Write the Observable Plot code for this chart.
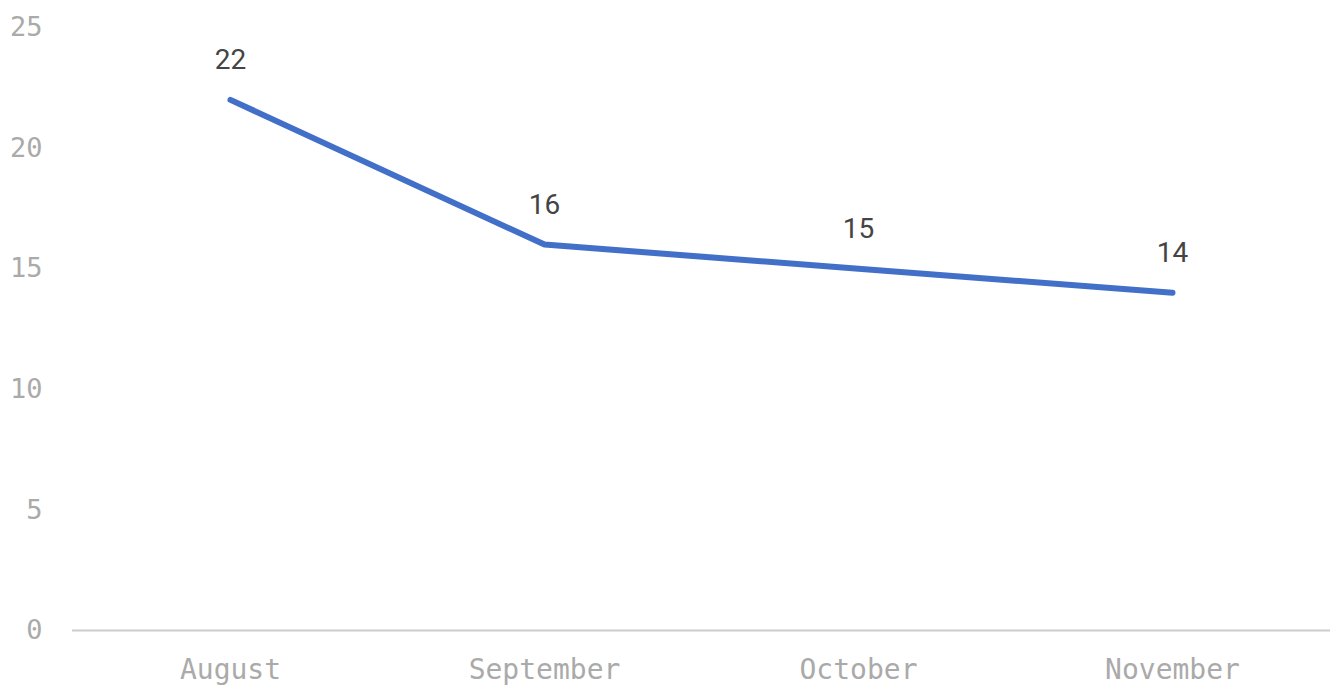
<!DOCTYPE html>
<html>
<head>
<meta charset="utf-8">
<script src="https://cdn.jsdelivr.net/npm/d3@7"></script>
<script src="https://cdn.jsdelivr.net/npm/@observablehq/plot@0.6"></script>
<style>
  html, body { margin: 0; padding: 0; background: #fff; }
  #chart svg { display: block; }
</style>
</head>
<body>
<div id="chart"></div>
<script>
const months = ["August", "September", "October", "November"];
const values = [22, 16, 15, 14];
const yTicks = [0, 5, 10, 15, 20, 25];

const data = months.map((m, i) => ({month: m, value: values[i]}));

const chart = Plot.plot({
  width: 1338,
  height: 688,
  marginTop: 27,
  marginBottom: 58,
  marginLeft: 72,
  marginRight: 8,
  style: {background: "#fff"},
  x: {type: "point", domain: months, padding: 0.5, label: null},
  y: {domain: [0, 25], label: null},
  marks: [
    Plot.axisY({ticks: yTicks, tickSize: 0, tickPadding: 30, fontSize: 27, fill: "#aaaaaa",
      fontFamily: "DejaVu Sans Mono", label: null}),
    Plot.axisX({tickSize: 0, tickPadding: 29, fontSize: 28, fill: "#aaaaaa",
      fontFamily: "DejaVu Sans Mono", label: null}),
    Plot.ruleY([0], {stroke: "#cccccc", strokeWidth: 2}),
    Plot.line(data, {x: "month", y: "value", stroke: "#4270c8", strokeWidth: 6}),
    Plot.text(data, {x: "month", y: "value", text: d => String(d.value), dy: -40,
      fontSize: 28, fontFamily: "Roboto", fill: "#444444"})
  ]
});
document.getElementById("chart").appendChild(chart);
</script>
</body>
</html>
